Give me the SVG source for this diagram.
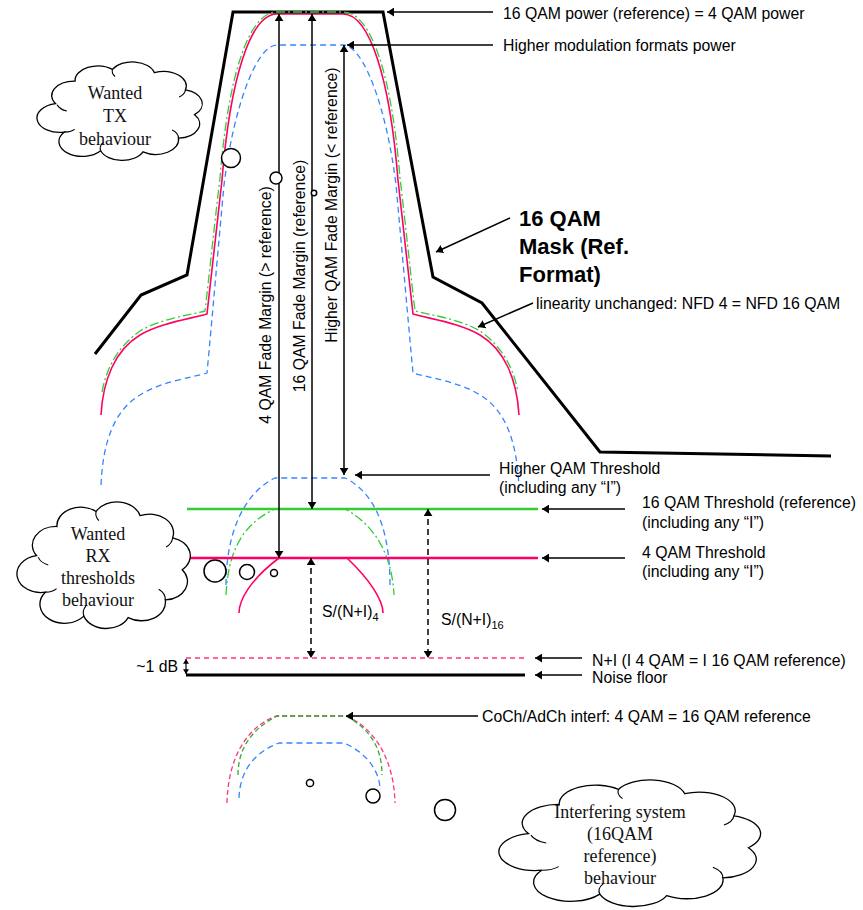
<svg xmlns="http://www.w3.org/2000/svg" width="863" height="910" viewBox="0 0 863 910">
<defs>
<style>
.t{font-family:"Liberation Sans",Arial,sans-serif;font-size:15.8px;fill:#000}
.b{font-family:"Liberation Sans",Arial,sans-serif;font-size:22px;font-weight:bold;fill:#000}
.c{font-family:"Liberation Serif","Times New Roman",serif;font-size:18px;fill:#111;text-anchor:middle}
.bub{fill:#fff;stroke:#000;stroke-width:1.5}
.red{fill:none;stroke:#ff0066;stroke-width:1.6}
.redl{fill:none;stroke:#ff0066;stroke-width:2.5}
.grn{fill:none;stroke:#33cc33;stroke-width:1.3;stroke-dasharray:9,3,2,3}
.grnl{fill:none;stroke:#33cc33;stroke-width:2.5}
.grnd{fill:none;stroke:#33aa33;stroke-width:1.3;stroke-dasharray:5,3}
.pkd{fill:none;stroke:#ff3385;stroke-width:1.3;stroke-dasharray:5,3}
.blu{fill:none;stroke:#3385ff;stroke-width:1.3;stroke-dasharray:6,4}
.mask{fill:none;stroke:#000;stroke-width:3;stroke-linejoin:miter}
.arr{fill:none;stroke:#000;stroke-width:1.5;marker-end:url(#ah)}
.darr{fill:none;stroke:#000;stroke-width:1.5;marker-start:url(#ah);marker-end:url(#ah)}
.dash{fill:none;stroke:#000;stroke-width:1.5;stroke-dasharray:6,4;marker-start:url(#ah);marker-end:url(#ah)}
</style>
<marker id="ah" viewBox="0 0 8 10" refX="8" refY="5" markerWidth="7" markerHeight="9" markerUnits="userSpaceOnUse" orient="auto-start-reverse"><path d="M0,0 L8,5 L0,10 z" fill="#000"/></marker>
<marker id="sh" viewBox="0 0 8 10" refX="8" refY="5" markerWidth="5" markerHeight="6" markerUnits="userSpaceOnUse" orient="auto-start-reverse"><path d="M0,0 L8,5 L0,10 z" fill="#000"/></marker>
<g id="cl">
<path vector-effect="non-scaling-stroke" fill="#fff" stroke="#000" stroke-width="1.3" d="M15.4,69 A13,13 0 0,1 10.6,43.4 A13,13 0 0,1 21.7,23.1 A13,13 0 0,1 43,12.6 A13,13 0 0,1 66.9,15.6 A13,13 0 0,1 84.6,31 A13,13 0 0,1 89.8,53.3 A13,13 0 0,1 80.6,74.4 A13,13 0 0,1 60.4,86.7 A13,13 0 0,1 36.3,85.7 A13,13 0 0,1 15.4,69 Z"/>
<path vector-effect="non-scaling-stroke" fill="none" stroke="#000" stroke-width="1.1" d="M11.5,44.5 A9,9 0 0,0 17,50 M43,12.6 A8,8 0 0,0 44.5,19 M84.6,31 A9,9 0 0,1 81,37.5 M80.6,74.4 A9,9 0 0,0 77,67 M36.3,85.7 A9,9 0 0,1 37.5,78.5 M15.4,69 A8,8 0 0,0 21.5,66.5"/>
</g>
</defs>
<rect width="863" height="910" fill="#fff"/>

<g id="tx-spectra">
<path class="blu" d="M101,485 C103,440 115,410 140,395 C160,382 190,378 207,373 C212,320 218,250 224,185 C233,110 256,45 277,45 L343,45 C364,45 387,110 396,185 C402,250 408,320 413,373 C430,378 460,382 480,395 C505,410 517,440 519,488"/>
<path class="red" d="M101,415 C103,380 115,350 140,335 C160,323 190,319 207,314 C211,280 216,230 222,180 C230,80 250,14 277,14 L343,14 C370,14 390,80 398,180 C404,230 409,280 413,314 C430,319 460,323 480,335 C505,350 517,380 519,415"/>
</g>
<g id="mask">
<path class="mask" d="M95,354 L141,295 L187,275 L233,12 L383,12 L433,277 L482,303 L600,452 L831,456"/>
</g>
<g id="tx-green">
<path class="grn" d="M102,392 C107,365 120,345 140,331 C160,319 190,315 205,311 C209,278 214,228 220,178 C228,78 248,12 277,12 L343,12 C372,12 392,78 400,178 C406,228 411,278 415,311 C430,315 460,319 480,331 C500,345 513,365 518,392"/>
</g>

<g id="rx-thresholds">
<path class="blu" d="M226,585 C226,540 240,495 275,478 L345,478 C380,495 390,540 390,585"/>
<path class="grn" d="M226,595 C228,555 240,525 275,509 L345,509 C375,525 392,555 394,595"/>
<line class="grnl" x1="187" y1="509" x2="538" y2="509"/>
<line class="redl" x1="190" y1="558" x2="538" y2="558"/>
<path class="red" d="M239,613 C239,600 250,580 279,558"/>
<path class="red" d="M347,558 C370,580 383,600 383,613"/>
</g>

<g id="noise">
<line x1="186" y1="658" x2="525" y2="658" stroke="#ff3385" stroke-width="1.5" stroke-dasharray="5,4"/>
<line x1="186" y1="675" x2="525" y2="675" stroke="#000" stroke-width="3"/>
<line x1="186" y1="659" x2="186" y2="674" stroke="#000" stroke-width="1.2" marker-start="url(#sh)" marker-end="url(#sh)"/>
<text class="t" x="178" y="672" text-anchor="end">~1 dB</text>
</g>

<g id="interferer-spectra">
<path class="pkd" d="M227,803 C228,760 245,728 276,716 L346,716 C375,728 394,760 395,803"/>
<path class="grnd" d="M238,775 C238,750 250,730 277,716 L346,716 C372,730 382,750 382,775"/>
<path class="blu" d="M239,798 C240,770 255,752 279,743 L344,743 C365,752 380,770 380,790"/>
</g>

<g id="connectors">
<line class="darr" x1="279" y1="14" x2="279" y2="558"/>
<line class="darr" x1="312" y1="14" x2="312" y2="509"/>
<line class="darr" x1="344" y1="45" x2="344" y2="475"/>
<line class="arr" x1="493" y1="12" x2="387" y2="12"/>
<line class="arr" x1="493" y1="45" x2="347" y2="45"/>
<line class="arr" x1="510" y1="218" x2="436" y2="252"/>
<line class="arr" x1="533" y1="303" x2="478" y2="327"/>
<line class="arr" x1="490" y1="475" x2="355" y2="475"/>
<line class="arr" x1="625" y1="509" x2="542" y2="509"/>
<line class="arr" x1="625" y1="558" x2="542" y2="558"/>
<line class="arr" x1="582" y1="658" x2="535" y2="658"/>
<line class="arr" x1="582" y1="675" x2="535" y2="675"/>
<line class="arr" x1="478" y1="716" x2="346" y2="716"/>
<line class="dash" x1="311" y1="558" x2="311" y2="658"/>
<line class="dash" x1="428" y1="509" x2="428" y2="658"/>
</g>

<g id="labels">
<text class="t" x="503" y="19">16 QAM power (reference) = 4 QAM power</text>
<text class="t" x="503" y="51">Higher modulation formats power</text>
<text class="b" x="519" y="226">16 QAM</text>
<text class="b" x="519" y="254">Mask (Ref.</text>
<text class="b" x="519" y="282">Format)</text>
<text class="t" x="536" y="309">linearity unchanged: NFD 4 = NFD 16 QAM</text>
<text class="t" text-anchor="middle" transform="translate(271,305) rotate(-90)">4 QAM Fade Margin (&gt; reference)</text>
<text class="t" text-anchor="middle" transform="translate(305,276) rotate(-90)">16 QAM Fade Margin (reference)</text>
<text class="t" text-anchor="middle" transform="translate(337,205) rotate(-90)">Higher QAM Fade Margin (&lt; reference)</text>
<text class="t" x="499" y="474">Higher QAM Threshold</text>
<text class="t" x="499" y="493">(including any “I”)</text>
<text class="t" x="642" y="508">16 QAM Threshold (reference)</text>
<text class="t" x="642" y="528">(including any “I”)</text>
<text class="t" x="642" y="558">4 QAM Threshold</text>
<text class="t" x="642" y="577">(including any “I”)</text>
<text class="t" x="322" y="617">S/(N+I)<tspan font-size="11" dy="4">4</tspan></text>
<text class="t" x="441" y="625">S/(N+I)<tspan font-size="11" dy="4">16</tspan></text>
<text class="t" x="592" y="666">N+I (I 4 QAM = I 16 QAM reference)</text>
<text class="t" x="592" y="683">Noise floor</text>
<text class="t" x="482" y="722">CoCh/AdCh interf: 4 QAM = 16 QAM reference</text>
</g>

<g id="cloud-tx">
<use href="#cl" transform="translate(37,55.3) scale(1.755,1.114)"/>
<circle class="bub" cx="231" cy="158" r="9.5"/>
<circle class="bub" cx="276" cy="178" r="6"/>
<circle class="bub" cx="314" cy="193" r="2.7"/>
<text class="c" x="115" y="99">Wanted</text>
<text class="c" x="115" y="122">TX</text>
<text class="c" x="115" y="145">behaviour</text>
</g>

<g id="cloud-rx">
<use href="#cl" transform="translate(17,493.4) scale(1.84,1.432)"/>
<circle class="bub" cx="215" cy="571" r="11"/>
<circle class="bub" cx="247" cy="572" r="7.5"/>
<circle class="bub" cx="274" cy="573" r="3.5"/>
<text class="c" x="98" y="540">Wanted</text>
<text class="c" x="98" y="562">RX</text>
<text class="c" x="98" y="584">thresholds</text>
<text class="c" x="98" y="606">behaviour</text>
</g>

<g id="cloud-interferer">
<use href="#cl" transform="translate(499,771.4) scale(2.777,1.432)"/>
<circle class="bub" cx="445" cy="810" r="10.5"/>
<circle class="bub" cx="373" cy="796" r="7"/>
<circle class="bub" cx="310" cy="783" r="3.6"/>
<text class="c" x="620" y="818">Interfering system</text>
<text class="c" x="620" y="840">(16QAM</text>
<text class="c" x="620" y="862">reference)</text>
<text class="c" x="620" y="884">behaviour</text>
</g>
</svg>
